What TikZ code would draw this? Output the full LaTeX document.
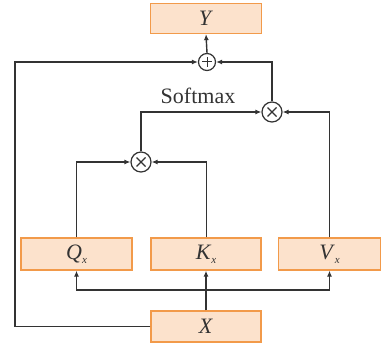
\documentclass[tikz,border=0pt]{standalone}
\usepackage{fontspec}
\setmainfont{Liberation Serif}
\usetikzlibrary{arrows.meta}
\definecolor{boxfill}{HTML}{FCE2CC}
\definecolor{boxline}{HTML}{F29A4A}
\definecolor{wire}{HTML}{333333}
\newcommand{\sublabel}[2]{\textit{#1}\raisebox{-0.4ex}{\fontsize{11}{11}\selectfont\textit{#2}}}
\begin{document}
\begin{tikzpicture}[x=1pt,y=-1pt,
  blockbox/.style={draw=boxline,fill=boxfill,line width=1.3pt,minimum height=30pt,
    inner sep=0pt,text=wire,font=\fontsize{22}{22}\selectfont},
  opcircle/.style={draw=wire,circle,line width=1.2pt,minimum size=#1,inner sep=0pt,fill=white},
  link/.style={draw=wire,line width=1.4pt,-{Latex[length=6pt,width=5pt]}},
  plainlink/.style={draw=wire,line width=1.4pt}]
\useasboundingbox (0,0) rectangle (382,347);

% blocks
\node[blockbox,minimum width=111pt] (Y) at (206,18.5) {\textit{Y}};
\node[blockbox,minimum width=111pt,minimum height=32pt] (Q) at (76.5,254) {\sublabel{Q}{x}};
\node[blockbox,minimum width=110pt,minimum height=32pt] (K) at (206,254) {\sublabel{K}{x}};
\node[blockbox,minimum width=102pt,minimum height=32pt] (V) at (329.5,254) {\sublabel{V}{x}};
\node[blockbox,minimum width=110pt,minimum height=31pt] (X) at (206,326.5) {\textit{X}};

% operators
\node[opcircle=17pt] (plus) at (207,62) {};
\draw[wire,line width=1pt] (plus.center) ++(-5,0) -- ++(10,0) (plus.center) ++(0,-5) -- ++(0,10);
\node[opcircle=20pt] (mulA) at (272,112) {};
\draw[wire,line width=1.1pt] (mulA.center) ++(-4.5,-4.5) -- ++(9,9) (mulA.center) ++(-4.5,4.5) -- ++(9,-9);
\node[opcircle=20pt] (mulB) at (141,162) {};
\draw[wire,line width=1.1pt] (mulB.center) ++(-4.5,-4.5) -- ++(9,9) (mulB.center) ++(-4.5,4.5) -- ++(9,-9);

\node[text=wire,font=\fontsize{22}{22}\selectfont] (sm) at (198,96) {Softmax};

% connectors
\coordinate (split) at (206,290);
\coordinate (leftcorner) at (15,326.5);
\draw[plainlink] (X.north) -- (split);
\draw[link] (split) -- (K.south);
\draw[link] (split) -| (Q.south);
\draw[link] (split) -| (V.south);
\draw[link] (X.west) -- (leftcorner) |- (plus.west);
\draw[link] (plus.north) -- (Y.south);
\draw[link] (mulA.north) |- (plus.east);
\draw[link] (V.north) |- (mulA.east);
\draw[link] (mulB.north) |- (mulA.west);
\draw[link] (Q.north) |- (mulB.west);
\draw[link] ([xshift=0.5pt]K.north) |- (mulB.east);
\end{tikzpicture}
\end{document}
